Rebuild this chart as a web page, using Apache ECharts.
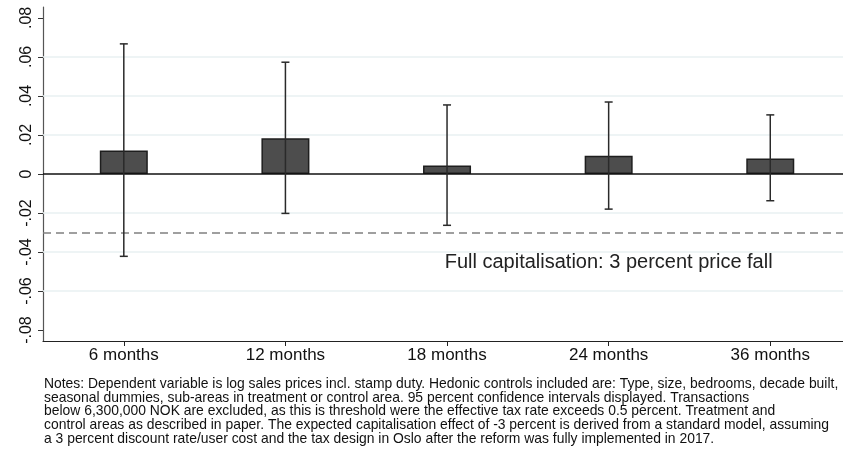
<!DOCTYPE html>
<html>
<head>
<meta charset="utf-8">
<script src="https://cdn.jsdelivr.net/npm/echarts@6/dist/echarts.min.js"></script>
<style>
  html, body { margin: 0; padding: 0; background: #fff; }
  #chart { width: 843px; height: 449px; }
</style>
</head>
<body>
<div id="chart"></div>
<script>
// Horizons after the reform
const categories = ['6 months', '12 months', '18 months', '24 months', '36 months'];
// Point estimates (log price effect)
const estimates = [0.0120, 0.0183, 0.0043, 0.0094, 0.0080];
// 95 percent confidence bounds
const lowerCI = [-0.0422, -0.0202, -0.0263, -0.0180, -0.0137];
const upperCI = [0.0667, 0.0573, 0.0354, 0.0369, 0.0303];
// Y axis ticks and their labels
const yTicks = [-0.08, -0.06, -0.04, -0.02, 0, 0.02, 0.04, 0.06, 0.08];
const yTickLabels = ['-.08', '-.06', '-.04', '-.02', '0', '.02', '.04', '.06', '.08'];
// Light reference grid lines
const gridValues = [-0.06, -0.04, -0.02, 0.02, 0.04, 0.06];
// Expected full capitalisation effect
const fullCapitalisation = -0.03;
const fullCapLabel = 'Full capitalisation: 3 percent price fall';
const fullCapLabelY = -0.0456;

const notes = [
  'Notes: Dependent variable is log sales prices incl. stamp duty. Hedonic controls included are: Type, size, bedrooms, decade built,',
  'seasonal dummies, sub-areas in treatment or control area. 95 percent confidence intervals displayed. Transactions',
  'below 6,300,000 NOK are excluded, as this is threshold were the effective tax rate exceeds 0.5 percent. Treatment and',
  'control areas as described in paper. The expected capitalisation effect of -3 percent is derived from a standard model, assuming',
  'a 3 percent discount rate/user cost and the tax design in Oslo after the reform was fully implemented in 2017.'
].join('\n');

const FONT = '"Liberation Sans", Arial, sans-serif';

const chart = echarts.init(document.getElementById('chart'), null, { renderer: 'canvas' });

const catIndex = categories.map((c, i) => i);
const barData = estimates.map((v, i) => [i, v]);
const ciData = categories.map((c, i) => [i, lowerCI[i], upperCI[i]]);

chart.setOption({
  animation: false,
  backgroundColor: '#ffffff',
  textStyle: { fontFamily: FONT },
  grid: { left: 43, top: 7, right: 0, height: 334, containLabel: false },
  xAxis: {
    type: 'value',
    min: -0.5,
    max: 4.45,
    axisLine: { show: true, onZero: false, lineStyle: { color: '#222', width: 1.2 } },
    axisTick: { show: true, length: 5, customValues: catIndex, lineStyle: { color: '#222' } },
    axisLabel: {
      show: true,
      customValues: catIndex,
      color: '#111',
      fontSize: 17,
      fontFamily: FONT,
      margin: 6,
      formatter: (v) => categories[Math.round(v)] || ''
    },
    splitLine: { show: false }
  },
  yAxis: {
    type: 'value',
    min: -0.0856,
    max: 0.0856,
    axisLine: { show: true, onZero: false, lineStyle: { color: '#555', width: 1.2 } },
    axisTick: { show: true, length: 5, customValues: yTicks, lineStyle: { color: '#333' } },
    axisLabel: {
      show: true,
      customValues: yTicks,
      rotate: 90,
      color: '#111',
      fontSize: 16,
      fontFamily: FONT,
      margin: 8,
      formatter: (v) => {
        const idx = yTicks.findIndex(t => Math.abs(t - v) < 1e-9);
        return idx >= 0 ? yTickLabels[idx] : '';
      }
    },
    splitLine: { show: false }
  },
  series: [
    {
      // reference lines: light grid and the dashed expectation line
      type: 'line',
      data: [],
      silent: true,
      z: 1,
      markLine: {
        silent: true,
        symbol: 'none',
        label: { show: false },
        animation: false,
        data: gridValues.map(v => ({ yAxis: v, lineStyle: { color: '#e9f0f2', width: 1.5, type: 'solid' } }))
          .concat([
            { yAxis: fullCapitalisation, lineStyle: { color: '#808080', width: 1.5, type: [8, 5] } }
          ])
      },
      markPoint: {
        silent: true,
        symbol: 'circle',
        symbolSize: 0,
        label: {
          show: true,
          position: 'inside',
          formatter: fullCapLabel,
          color: '#222',
          fontSize: 20,
          fontFamily: FONT
        },
        data: [{ coord: [3, fullCapLabelY] }]
      }
    },
    {
      type: 'bar',
      data: barData,
      barWidth: 48,
      z: 3,
      itemStyle: { color: '#4d4d4d', borderColor: '#1e1e1e', borderWidth: 1.5 }
    },
    {
      // zero line over the bar bases
      type: 'line',
      data: [],
      silent: true,
      z: 4,
      markLine: {
        silent: true,
        symbol: 'none',
        label: { show: false },
        animation: false,
        data: [{ yAxis: 0, lineStyle: { color: '#111', width: 1.6, type: 'solid' } }]
      }
    },
    {
      // confidence intervals
      type: 'custom',
      z: 5,
      data: ciData,
      renderItem: (params, api) => {
        const x = api.value(0);
        const lo = api.coord([x, api.value(1)]);
        const hi = api.coord([x, api.value(2)]);
        const cap = 4;
        const style = { stroke: '#2a2a2a', lineWidth: 1.5 };
        return {
          type: 'group',
          children: [
            { type: 'line', shape: { x1: hi[0], y1: hi[1], x2: lo[0], y2: lo[1] }, style },
            { type: 'line', shape: { x1: hi[0] - cap, y1: hi[1], x2: hi[0] + cap, y2: hi[1] }, style },
            { type: 'line', shape: { x1: lo[0] - cap, y1: lo[1], x2: lo[0] + cap, y2: lo[1] }, style }
          ]
        };
      }
    }
  ],
  graphic: [
    {
      type: 'text',
      left: 44,
      top: 377,
      style: {
        text: notes,
        fill: '#111',
        font: '13.9px ' + FONT,
        lineHeight: 13.7
      }
    }
  ]
});
</script>
</body>
</html>
